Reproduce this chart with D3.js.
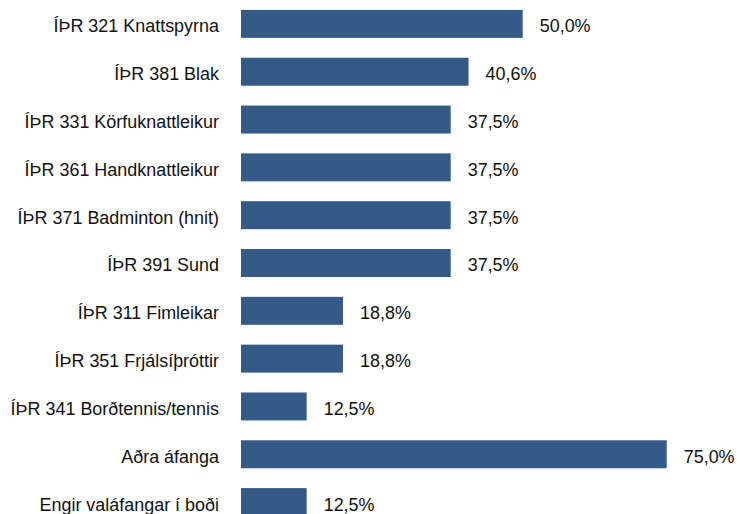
<!DOCTYPE html>
<html>
<head>
<meta charset="utf-8">
<script src="https://cdn.jsdelivr.net/npm/d3@7"></script>
<style>
  body { margin: 0; background: #fff; }
  text { font-family: "Liberation Sans Narrow", "Arial Narrow", "Liberation Sans", Arial, sans-serif; fill: #111; }
</style>
</head>
<body>
<div id="chart"></div>
<script>
var categories = [
  "ÍÞR 321 Knattspyrna",
  "ÍÞR 381 Blak",
  "ÍÞR 331 Körfuknattleikur",
  "ÍÞR 361 Handknattleikur",
  "ÍÞR 371 Badminton (hnit)",
  "ÍÞR 391 Sund",
  "ÍÞR 311 Fimleikar",
  "ÍÞR 351 Frjálsíþróttir",
  "ÍÞR 341 Borðtennis/tennis",
  "Aðra áfanga",
  "Engir valáfangar í boði"
];
var values = [50.0, 40.6, 37.5, 37.5, 37.5, 37.5, 18.8, 18.8, 12.5, 75.0, 12.5];
var valueLabels = ["50,0%", "40,6%", "37,5%", "37,5%", "37,5%", "37,5%", "18,8%", "18,8%", "12,5%", "75,0%", "12,5%"];

var width = 737, height = 514;

// the category axis crosses a little above zero, like the original
var xMin = 1.1;
// narrow-ish glyphs, the original uses a condensed face
var squeeze = 0.97;

var x = d3.scaleLinear()
    .domain([xMin, 75])
    .range([241, 666.7]);

var y = d3.scaleBand()
    .domain(d3.range(categories.length))
    .range([0, 526])
    .paddingInner(0.415)
    .paddingOuter(0.2075);

var svg = d3.select("#chart").append("svg")
    .attr("width", width)
    .attr("height", height);

svg.append("g").selectAll(".bar")
    .data(values)
  .enter().append("rect")
    .attr("class", "bar")
    .attr("x", x(xMin))
    .attr("y", function(d, i) { return y(i); })
    .attr("width", function(d) { return x(d) - x(xMin); })
    .attr("height", y.bandwidth())
    .style("fill", "#355a87");

svg.append("g").selectAll(".value")
    .data(values)
  .enter().append("text")
    .attr("class", "value")
    .attr("transform", function(d, i) {
      return "translate(" + (x(d) + 17) + "," + (y(i) + y.bandwidth() / 2 + 2) + ") scale(" + squeeze + ",1)";
    })
    .attr("dy", ".35em")
    .style("font-size", "18.5px")
    .text(function(d, i) { return valueLabels[i]; });

svg.append("g").selectAll(".cat")
    .data(categories)
  .enter().append("text")
    .attr("class", "cat")
    .attr("transform", function(d, i) {
      return "translate(219," + (y(i) + y.bandwidth() / 2 + 2) + ") scale(" + squeeze + ",1)";
    })
    .attr("dy", ".35em")
    .style("text-anchor", "end")
    .style("font-size", "18.5px")
    .text(function(d) { return d; });
</script>
</body>
</html>
